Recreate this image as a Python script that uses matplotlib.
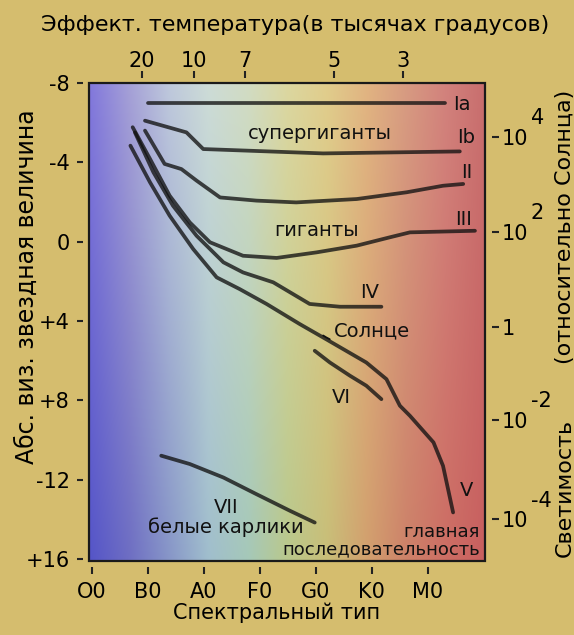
import numpy as np
import matplotlib
matplotlib.use('Agg')
import matplotlib.pyplot as plt
from matplotlib.patches import Rectangle
from matplotlib.transforms import blended_transform_factory

plt.rcParams['font.family'] = ['DejaVu Sans']

# axis ticks
spec_pos = [0, 1, 2, 3, 4, 5, 6]
spec_labels = ['O0', 'B0', 'A0', 'F0', 'G0', 'K0', 'M0']
temp_pos = [0.89, 1.83, 2.74, 4.33, 5.55]
temp_labels = ['20', '10', '7', '5', '3']
mag_ticks = [-8, -4, 0, 4, 8, 12, 16]
mag_labels = ['-8', '-4', '0', '+4', '+8', '-12', '+16']
lum_mag = [-5.3, -0.5, 4.3, 9.0, 14.0]
lum_base = ['10', '10', '1', '10', '10']
lum_exp = ['4', '2', '', '-2', '-4']

# luminosity classes (spectral type units, abs. magnitude)
Ia_x = [1.01, 6.30]
Ia_y = [-7.0, -7.0]
Ib_x = [0.95, 1.69, 1.99, 4.13, 6.57]
Ib_y = [-6.10, -5.51, -4.67, -4.45, -4.55]
II_x = [0.95, 1.30, 1.60, 1.87, 2.29, 2.94, 3.65, 4.73, 5.62, 6.27, 6.63]
II_y = [-5.60, -3.92, -3.66, -3.08, -2.23, -2.07, -1.98, -2.15, -2.49, -2.82, -2.91]
III_x = [0.73, 1.04, 1.39, 1.75, 2.11, 2.70, 3.30, 4.01, 4.73, 5.32, 5.68, 6.84]
III_y = [-5.77, -4.17, -2.32, -0.97, 0.03, 0.71, 0.82, 0.54, 0.20, -0.22, -0.47, -0.55]
IV_x = [0.77, 1.10, 1.45, 1.87, 2.35, 2.70, 3.24, 3.89, 4.43, 5.17]
IV_y = [-5.51, -3.50, -1.81, -0.30, 1.04, 1.55, 2.05, 3.14, 3.28, 3.28]
V_x = [0.69, 1.04, 1.39, 1.81, 2.23, 2.64, 3.12, 3.71, 4.13, 4.90, 5.26, 5.50, 5.68, 6.10, 6.27, 6.45]
V_y = [-4.84, -2.99, -1.31, 0.37, 1.80, 2.39, 3.14, 4.15, 4.83, 6.09, 6.93, 8.27, 8.78, 10.12, 11.30, 13.65]
VI_x = [3.98, 4.25, 4.61, 4.90, 5.17]
VI_y = [5.50, 6.09, 6.76, 7.26, 7.94]
VII_x = [1.24, 1.75, 2.35, 2.94, 3.54, 3.98]
VII_y = [10.79, 11.21, 11.89, 12.73, 13.57, 14.16]
sun_x, sun_y = 4.13, 4.83

# background gradient colours (top row / bottom row, left to right)
grad_top = [(130, 120, 220), (165, 160, 215), (190, 200, 220), (205, 220, 215), (210, 220, 195),
            (220, 215, 160), (225, 205, 140), (225, 180, 130), (215, 155, 130), (210, 130, 125), (200, 110, 110)]
grad_bot = [(85, 85, 200), (110, 110, 195), (135, 150, 200), (160, 190, 205), (165, 200, 185),
            (185, 200, 140), (200, 190, 120), (210, 160, 110), (205, 130, 105), (205, 110, 100), (200, 95, 95)]

bg = '#d5bd6e'
fig = plt.figure(figsize=(5.74, 6.35), dpi=100, facecolor=bg)
ax = fig.add_axes([0.155, 0.1165, 0.690, 0.7528])

xmin, xmax = -0.05, 7.02
ymin, ymax = -8, 16.1

# gradient image
nx, ny = 200, 100
stops = np.linspace(0, 1, len(grad_top))
xs = np.linspace(0, 1, nx)
top = np.array([np.interp(xs, stops, [c[i] for c in grad_top]) for i in range(3)]).T / 255
bot = np.array([np.interp(xs, stops, [c[i] for c in grad_bot]) for i in range(3)]).T / 255
w = np.linspace(0, 1, ny)[:, None, None]
img = top[None, :, :] * (1 - w) + bot[None, :, :] * w
ax.imshow(img, extent=[xmin, xmax, ymax, ymin], aspect='auto', interpolation='bilinear', zorder=0)

line_kw = dict(color='#121212', alpha=0.78, lw=2.7, solid_capstyle='round', solid_joinstyle='round', zorder=3)
for xx, yy in [(Ia_x, Ia_y), (Ib_x, Ib_y), (II_x, II_y), (III_x, III_y), (IV_x, IV_y),
               (V_x, V_y), (VI_x, VI_y), (VII_x, VII_y)]:
    ax.plot(xx, yy, **line_kw)

ax.set_xlim(xmin, xmax)
ax.set_ylim(ymax, ymin)

# labels inside the plot
tc = '#111111'
ax.text(6.60, -6.94, 'Ia', fontsize=14, color=tc, va='center', ha='center')
ax.text(4.07, -5.43, 'супергиганты', fontsize=14, color=tc, va='center', ha='center')
ax.text(6.69, -5.26, 'Ib', fontsize=14, color=tc, va='center', ha='center')
ax.text(6.69, -3.50, 'II', fontsize=14, color=tc, va='center', ha='center')
ax.text(4.01, -0.55, 'гиганты', fontsize=14, color=tc, va='center', ha='center')
ax.text(6.63, -1.14, 'III', fontsize=14, color=tc, va='center', ha='center')
ax.text(4.96, 2.56, 'IV', fontsize=14, color=tc, va='center', ha='center')
ax.annotate('Солнце', xy=(sun_x, sun_y - 0.1), xytext=(4.32, 4.49), fontsize=14, color=tc,
            va='center', ha='left',
            arrowprops=dict(arrowstyle='-', lw=1.3, color=tc, connectionstyle='arc3,rad=-0.4',
                            shrinkA=1, shrinkB=0))
ax.text(4.46, 7.85, 'VI', fontsize=14, color=tc, va='center', ha='center')
ax.text(6.69, 12.56, 'V', fontsize=14, color=tc, va='center', ha='center')
ax.text(2.40, 13.40, 'VII', fontsize=14, color=tc, va='center', ha='center')
ax.text(2.40, 14.41, 'белые карлики', fontsize=14, color=tc, va='center', ha='center')
ax.text(6.93, 14.66, 'главная', fontsize=13, color=tc, va='center', ha='right')
ax.text(6.93, 15.50, 'последовательность', fontsize=13, color=tc, va='center', ha='right')

# frame + detached ticks
for s in ax.spines.values():
    s.set_visible(False)
ax.add_patch(Rectangle((0, 0), 1, 1, transform=ax.transAxes, fill=False, lw=1.6,
                       ec='#1a1a1a', clip_on=False, zorder=5))
ax.spines['left'].set_position(('outward', 4))
ax.spines['bottom'].set_position(('outward', 4))
ax.set_xticks(spec_pos, spec_labels)
ax.set_yticks(mag_ticks, mag_labels)
ax.tick_params(axis='x', direction='out', length=5, width=1.5, pad=6, labelsize=15, color='#222')
ax.tick_params(axis='y', direction='out', length=4, width=1.5, pad=6, labelsize=15, color='#222')

secx = ax.secondary_xaxis(1.011)
secx.set_xticks(temp_pos, temp_labels)
secx.tick_params(direction='out', length=5, width=1.5, pad=0, labelsize=15, color='#222')
secx.spines['top'].set_visible(False)

secy = ax.secondary_yaxis(1.018)
secy.set_yticks(lum_mag, lum_base)
secy.tick_params(direction='out', length=5, width=1.5, pad=2, labelsize=15, color='#222')
secy.spines['right'].set_visible(False)

tr = blended_transform_factory(ax.transAxes, ax.transData)
for m, e in zip(lum_mag, lum_exp):
    if e:
        ax.text(1.116, m - 0.95, e, transform=tr, fontsize=15, ha='left', va='center', clip_on=False)

# axis titles
fig.text(0.514, 1 - 25 / 635, 'Эффект. температура(в тысячах градусов)', fontsize=16, ha='center', va='center')
fig.text(27 / 574, 1 - 287 / 635, 'Абс. виз. звездная величина', fontsize=17, rotation=90, ha='center', va='center')
fig.text(565 / 574, 1 - 488 / 635, 'Светимость', fontsize=16, rotation=90, ha='center', va='center')
fig.text(565 / 574, 1 - 227 / 635, '(относительно Солнца)', fontsize=16, rotation=90, ha='center', va='center')
fig.text(277 / 574, 1 - 613 / 635, 'Спектральный тип', fontsize=15, ha='center', va='center')

fig.savefig('out.png', dpi=100, facecolor=bg)
